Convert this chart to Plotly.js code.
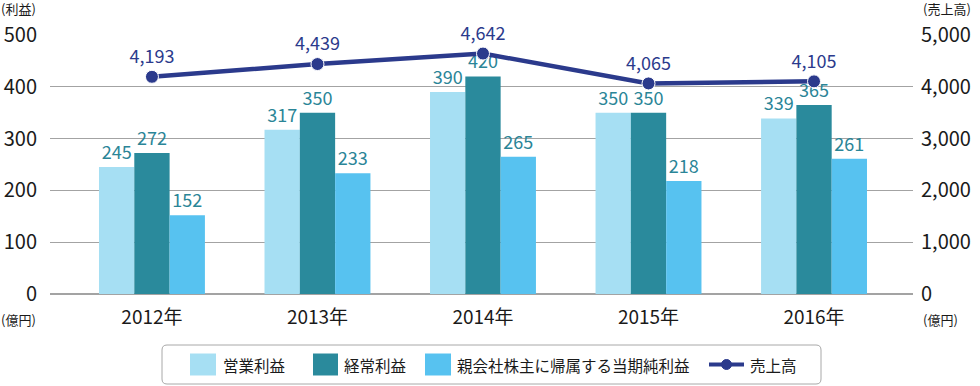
<!DOCTYPE html>
<html>
<head>
<meta charset="utf-8">
<script src="https://cdn.plot.ly/plotly-3.0.1.min.js"></script>
<style>html,body{margin:0;padding:0;background:#fff;}#chart{width:980px;height:386px;}</style>
</head>
<body>
<div id="chart"></div>
<script>
// ---- data ----
const years = ["2012年", "2013年", "2014年", "2015年", "2016年"];
const operatingProfit = [245, 317, 390, 350, 339];      // 営業利益
const ordinaryProfit = [272, 350, 420, 350, 365];       // 経常利益
const netProfit = [152, 233, 265, 218, 261];            // 親会社株主に帰属する当期純利益
const sales = [4193, 4439, 4642, 4065, 4105];           // 売上高
const seriesNames = ["営業利益", "経常利益", "親会社株主に帰属する当期純利益", "売上高"];
const leftTicks = [0, 100, 200, 300, 400, 500];
const rightTicks = [0, 1000, 2000, 3000, 4000, 5000];

// ---- style ----
const C_LIGHT = "#a6dff3", C_TEAL = "#2a8a9c", C_SKY = "#57c2f0", C_NAVY = "#2b3a8c";
const LABEL_TEAL = "#2a8597";
const FONT = "'Noto Sans CJK JP', 'Noto Sans', sans-serif";
const W = 980, H = 386, ML = 50, MR = 67, MT = 35, MB = 92;
const PW = W - ML - MR, PH = H - MT - MB;
const X = px => (px - ML) / PW;
const Y = py => (H - MB - py) / PH;

function barTrace(vals, name, color) {
  return {
    type: "bar", x: years, y: vals, name: name,
    marker: {color: color, line: {width: 0}},
    text: vals.map(String), textposition: "outside",
    textfont: {family: FONT, size: 18, color: LABEL_TEAL},
    cliponaxis: false, showlegend: false, hoverinfo: "skip"
  };
}

const traces = [
  barTrace(operatingProfit, seriesNames[0], C_LIGHT),
  barTrace(ordinaryProfit, seriesNames[1], C_TEAL),
  barTrace(netProfit, seriesNames[2], C_SKY),
  {
    type: "scatter", mode: "lines+markers+text", x: years, y: sales, yaxis: "y2",
    name: seriesNames[3],
    line: {color: C_NAVY, width: 4.5},
    marker: {color: C_NAVY, size: 13, line: {color: "#ffffff", width: 1}},
    texttemplate: "%{y:,}", textposition: "top center",
    textfont: {family: FONT, size: 18, color: C_NAVY},
    cliponaxis: false, showlegend: false, hoverinfo: "skip"
  }
];

// ---- custom legend ----
const shapes = [];
const annotations = [];
const r = 5, bx0 = 162, bx1 = 821, by0 = 345, by1 = 384;
shapes.push({
  type: "path", xref: "paper", yref: "paper",
  path: `M${X(bx0 + r)},${Y(by0)} L${X(bx1 - r)},${Y(by0)} Q${X(bx1)},${Y(by0)} ${X(bx1)},${Y(by0 + r)} ` +
        `L${X(bx1)},${Y(by1 - r)} Q${X(bx1)},${Y(by1)} ${X(bx1 - r)},${Y(by1)} ` +
        `L${X(bx0 + r)},${Y(by1)} Q${X(bx0)},${Y(by1)} ${X(bx0)},${Y(by1 - r)} ` +
        `L${X(bx0)},${Y(by0 + r)} Q${X(bx0)},${Y(by0)} ${X(bx0 + r)},${Y(by0)} Z`,
  line: {color: "#a8a8a8", width: 1}, fillcolor: "rgba(0,0,0,0)"
});
const legY = 364.5;
const swatches = [[190, 216, C_LIGHT, 221], [313, 338, C_TEAL, 342], [425, 451, C_SKY, 455]];
swatches.forEach((s, i) => {
  shapes.push({type: "rect", xref: "paper", yref: "paper", x0: X(s[0]), x1: X(s[1]),
    y0: Y(legY - 11), y1: Y(legY + 11), fillcolor: s[2], line: {width: 0}});
  annotations.push({xref: "paper", yref: "paper", x: X(s[3]), y: Y(legY), xanchor: "left", yanchor: "middle",
    text: seriesNames[i], showarrow: false, font: {family: FONT, size: 15.5, color: "#1a1a1a"}});
});
shapes.push({type: "line", xref: "paper", yref: "paper", x0: X(709), x1: X(744), y0: Y(legY), y1: Y(legY),
  line: {color: C_NAVY, width: 4}});
shapes.push({type: "circle", xref: "paper", yref: "paper", x0: X(721.5), x1: X(731.5), y0: Y(legY - 5), y1: Y(legY + 5),
  fillcolor: C_NAVY, line: {color: C_NAVY, width: 1}});
annotations.push({xref: "paper", yref: "paper", x: X(748), y: Y(legY), xanchor: "left", yanchor: "middle",
  text: seriesNames[3], showarrow: false, font: {family: FONT, size: 15.5, color: "#1a1a1a"}});

// ---- unit labels ----
const unitFont = {family: FONT, size: 13, color: "#1a1a1a"};
annotations.push({xref: "paper", yref: "paper", x: X(-1), y: Y(9), xanchor: "left", yanchor: "middle", text: "(利益)", showarrow: false, font: unitFont});
annotations.push({xref: "paper", yref: "paper", x: X(-1), y: Y(319), xanchor: "left", yanchor: "middle", text: "(億円)", showarrow: false, font: unitFont});
annotations.push({xref: "paper", yref: "paper", x: X(921), y: Y(9), xanchor: "left", yanchor: "middle", text: "(売上高)", showarrow: false, font: unitFont});
annotations.push({xref: "paper", yref: "paper", x: X(921), y: Y(319), xanchor: "left", yanchor: "middle", text: "(億円)", showarrow: false, font: unitFont});

const layout = {
  width: W, height: H,
  margin: {l: ML, r: MR, t: MT, b: MB, pad: 0},
  paper_bgcolor: "#ffffff", plot_bgcolor: "#ffffff",
  font: {family: FONT, color: "#1a1a1a"},
  barmode: "group", bargap: 0.36, bargroupgap: 0,
  showlegend: false,
  xaxis: {
    type: "category", range: [-0.616, 4.598], showgrid: false, zeroline: false,
    showline: false, ticks: "", ticklabelstandoff: 10,
    tickfont: {family: FONT, size: 19, color: "#1a1a1a"}, fixedrange: true
  },
  yaxis: {
    range: [0, 500], tickvals: leftTicks, ticktext: leftTicks.map(String),
    showgrid: true, gridcolor: "#a3a3a3", gridwidth: 1,
    zeroline: true, zerolinecolor: "#a3a3a3", zerolinewidth: 1.5,
    showline: false, ticks: "", ticklabelstandoff: 12,
    tickfont: {family: FONT, size: 20, color: "#1a1a1a"}, fixedrange: true
  },
  yaxis2: {
    overlaying: "y", side: "right", range: [0, 5000], tickvals: rightTicks,
    tickformat: ",", showgrid: false, zeroline: false, showline: false,
    ticks: "", ticklabelstandoff: 7,
    tickfont: {family: FONT, size: 20, color: "#1a1a1a"}, fixedrange: true
  },
  shapes: shapes,
  annotations: annotations
};

Plotly.newPlot("chart", traces, layout, {staticPlot: true, displayModeBar: false});
</script>
</body>
</html>
